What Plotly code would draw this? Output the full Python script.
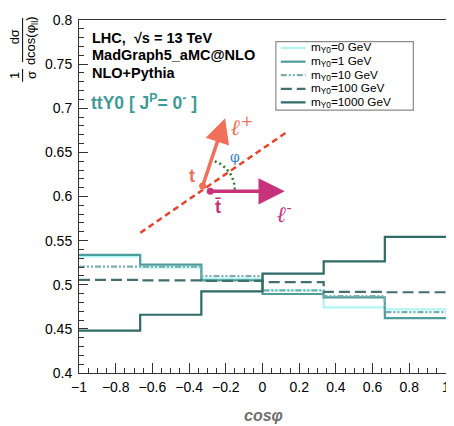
import plotly.graph_objects as go
import numpy as np

# ---------------- data ----------------
bin_edges = [-1.0, -2/3, -1/3, 0.0, 1/3, 2/3, 1.0]
m0_vals = [0.5320, 0.5197, 0.5067, 0.4935, 0.4744, 0.4722]
m1_vals = [0.5338, 0.5227, 0.5050, 0.4895, 0.4856, 0.4622]
m10_vals = [0.5205, 0.5205, 0.5097, 0.4937, 0.4870, 0.4689]
m100_vals = [0.5056, 0.5050, 0.5045, 0.5030, 0.4919, 0.4915]
m1000_vals = [0.4481, 0.4660, 0.4925, 0.5125, 0.5264, 0.5542]

series_names = ["m<sub>Y0</sub>=0 GeV", "m<sub>Y0</sub>=1 GeV", "m<sub>Y0</sub>=10 GeV",
                "m<sub>Y0</sub>=100 GeV", "m<sub>Y0</sub>=1000 GeV"]
series_vals = [m0_vals, m1_vals, m10_vals, m100_vals, m1000_vals]
series_colors = ["#aef6f6", "#4f9d9b", "#7aaeae", "#43706e", "#2f6b68"]
series_dash = ["solid", "solid", "6px,2px,2px,2px,2px,2px", "11px,5px", "solid"]

x_ticks = [-1, -0.8, -0.6, -0.4, -0.2, 0, 0.2, 0.4, 0.6, 0.8, 1]
y_ticks = [0.4, 0.45, 0.5, 0.55, 0.6, 0.65, 0.7, 0.75, 0.8]

# page has an 8px body margin: figure is drawn at offset (8, 8) in the window
OFF = 8
W, H = 454 - OFF, 426 - OFF
# plot area in window pixels
X_L, X_R, Y_T, Y_B = 79, 450, 13, 373
ML, MR, MT, MB = X_L - OFF, 454 - X_R, Y_T - OFF, 426 - Y_B
PW, PH = X_R - X_L, Y_B - Y_T


def px(xp):
    return (xp - X_L) / PW


def py(yp):
    return (Y_B - yp) / PH


def dx(xp):
    return -1 + 2 * (xp - X_L) / PW


def dy(yp):
    return 0.8 - 0.4 * (yp - Y_T) / PH


fig = go.Figure()

for name, vals, col, dash in zip(series_names, series_vals, series_colors, series_dash):
    fig.add_trace(go.Scatter(
        x=bin_edges, y=list(vals) + [vals[-1]], mode="lines", line_shape="hv",
        line=dict(color=col, width=2.2, dash=dash), name=name, showlegend=False,
        hoverinfo="skip"))

# ---------------- diagram ----------------
red_line = dict(x0=dx(141), y0=dy(230), x1=dx(291), y1=dy(126))
fig.add_trace(go.Scatter(x=[red_line["x0"], red_line["x1"]], y=[red_line["y0"], red_line["y1"]],
                         mode="lines", line=dict(color="#e8442e", width=2.5, dash="6px,4px"),
                         showlegend=False, hoverinfo="skip"))

# green dotted arc (in pixel space)
cx, cy, r = 205.5, 186.0, 31.0
ang = np.radians(np.linspace(0, 72, 30))
arc_x = [dx(cx + r * np.cos(a)) for a in ang]
arc_y = [dy(cy - r * np.sin(a)) for a in ang]
fig.add_trace(go.Scatter(x=arc_x, y=arc_y, mode="lines",
                         line=dict(color="#2e7d32", width=2.5, dash="2px,3px"),
                         showlegend=False, hoverinfo="skip"))

orange = "#f0705a"
magenta = "#c8327a"
# tails dots
fig.add_trace(go.Scatter(x=[dx(204), dx(211.7)], y=[dy(182.3), dy(187.7)], mode="markers",
                         marker=dict(color=[orange, magenta], size=7),
                         showlegend=False, hoverinfo="skip"))

annotations = []
annotations.append(dict(x=dx(226.7), y=dy(113.3), ax=dx(204), ay=dy(182.3), xref="x", yref="y",
                        axref="x", ayref="y", showarrow=True, arrowhead=2, arrowsize=1.4,
                        arrowwidth=3.5, arrowcolor=orange, text=""))
annotations.append(dict(x=dx(287), y=dy(187.7), ax=dx(211.7), ay=dy(187.7), xref="x", yref="y",
                        axref="x", ayref="y", showarrow=True, arrowhead=2, arrowsize=1.5,
                        arrowwidth=3.5, arrowcolor=magenta, text=""))


def lab(xp, yp, text, color, size, family="DejaVu Serif"):
    annotations.append(dict(x=px(xp), y=py(yp), xref="paper", yref="paper", text=text,
                            showarrow=False, xanchor="center", yanchor="middle",
                            font=dict(color=color, size=size, family=family)))


lab(244, 121, "<b><i>ℓ</i></b><sup>+</sup>", orange, 22)
lab(193, 172, "<b>t</b>", orange, 18, "Liberation Sans")
lab(236.5, 153, "φ", "#3a80c8", 14)
lab(220, 204, "<b>t̄</b>", magenta, 18, "Liberation Sans")
lab(287, 210, "<b><i>ℓ</i></b><sup>-</sup>", magenta, 22)

# ---------------- texts ----------------
txt_font = "Liberation Sans"
for yp, t in [(31, "<b>LHC,  √s = 13 TeV</b>"), (48.7, "<b>MadGraph5_aMC@NLO</b>"),
              (67, "<b>NLO+Pythia</b>")]:
    annotations.append(dict(x=px(90), y=py(yp), xref="paper", yref="paper", text=t,
                            showarrow=False, xanchor="left", yanchor="middle",
                            font=dict(family=txt_font, size=14.5, color="black")))
annotations.append(dict(x=px(89), y=py(97), xref="paper", yref="paper",
                        text="<b>ttY0 [ J<sup>P</sup>= 0<sup>-</sup> ]</b>",
                        showarrow=False, xanchor="left", yanchor="middle",
                        font=dict(family=txt_font, size=17.5, color="#3d9c98")))

# y-axis title as fractions
for xp, yp, t in [(14, 30, "dσ"), (31, 34, "dcos(φ<sub>ll</sub>)"), (14, 69.5, "1"), (31, 69.5, "σ")]:
    annotations.append(dict(x=px(xp), y=py(yp), xref="paper", yref="paper", text=t,
                            textangle=-90, showarrow=False, xanchor="center", yanchor="middle",
                            font=dict(family=txt_font, size=13, color="black")))

# x-axis title
annotations.append(dict(x=px(266), y=py(416), xref="paper", yref="paper", text="<i><b>cosφ</b></i>",
                        showarrow=False, xanchor="center", yanchor="middle",
                        font=dict(family=txt_font, size=16, color="#6e6e6e")))

shapes = []
# fraction bars
for y0, y1 in [(11, 56), (63, 76)]:
    shapes.append(dict(type="line", xref="paper", yref="paper", x0=px(22), x1=px(22),
                       y0=py(y0), y1=py(y1), line=dict(color="black", width=1)))

# legend box
shapes.append(dict(type="rect", xref="paper", yref="paper", x0=px(278), x1=px(417),
                   y0=py(105), y1=py(35), line=dict(color="#8a8a8a", width=1.2),
                   fillcolor="white", layer="below"))
leg_y = [41.5, 55.5, 69.3, 83.2, 97.0]
for yp, name, col, dash in zip(leg_y, series_names, series_colors, series_dash):
    shapes.append(dict(type="line", xref="paper", yref="paper", x0=px(283), x1=px(308),
                       y0=py(yp), y1=py(yp), line=dict(color=col, width=2.2, dash=dash)))
    annotations.append(dict(x=px(312), y=py(yp), xref="paper", yref="paper", text=name,
                            showarrow=False, xanchor="left", yanchor="middle",
                            font=dict(family=txt_font, size=11.8, color="black")))

axis_common = dict(showline=True, linecolor="#333333", linewidth=1, mirror=True,
                   ticks="inside", tickcolor="#333333", showgrid=False, zeroline=False,
                   ticklabeloverflow="allow",
                   tickfont=dict(family=txt_font, size=14, color="black"))

fig.update_layout(
    width=W, height=H, margin=dict(l=ML, r=MR, t=MT, b=MB),
    paper_bgcolor="white", plot_bgcolor="white", showlegend=False,
    xaxis=dict(range=[-1, 1], tickvals=x_ticks, ticklen=10, tickwidth=1,
               minor=dict(dtick=0.05, ticklen=5, ticks="inside", tickcolor="#333333", showgrid=False),
               ticklabelstandoff=1, **axis_common),
    yaxis=dict(range=[0.4, 0.8], tickvals=y_ticks, ticklen=9, tickwidth=1,
               minor=dict(dtick=0.01, ticklen=5, ticks="inside", tickcolor="#333333", showgrid=False),
               ticklabelstandoff=3, **axis_common),
    annotations=annotations, shapes=shapes,
)

fig.write_html("out.html")
